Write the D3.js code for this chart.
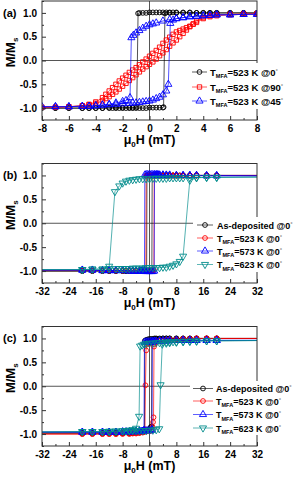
<!DOCTYPE html>
<html><head><meta charset="utf-8">
<script src="https://cdn.jsdelivr.net/npm/d3@7"></script>
<style>
body{margin:0;background:#fff}
svg{display:block;font-family:"Liberation Sans",Arial,Helvetica,sans-serif;font-weight:bold}
</style></head><body>
<svg id="chart" width="295" height="477"></svg>
<script>
// ---------------- DATA ----------------
const xTicksA = [-8,-6,-4,-2,0,2,4,6,8];
const xMinorA = [-7,-5,-3,-1,1,3,5,7];
const xTicksBC = [-32,-24,-16,-8,0,8,16,24,32];
const xMinorBC = [-28,-20,-12,-4,4,12,20,28];
const yTicks = [-1.0,-0.5,0.0,0.5,1.0];
const yMinor = [-1.25,-0.75,-0.25,0.25,0.75,1.25];

const legendA = ["523 K @0", "523 K @90", "523 K @45"];
const legendBC = ["As-deposited @0", "523 K @0", "573 K @0", "623 K @0"];

// panel (a): [H (mT), M/Ms], descending branch then ascending branch
const aBlack = [[8,1],[7,1],[6,1],[5,1],[4.5,1],[4,1],[3.5,1],[3,1.01],[2.5,1.01],[2,1.01],[1.75,1.01],[1.5,1.01],[1.25,1.01],[1,1.01],[0.75,1.01],[0.5,1.01],[0.25,1.01],[0,1.01],[-0.25,1],[-0.5,1],[-0.75,1],[-0.85,0.99],[-0.95,-0.98],[-1.25,-0.99],[-1.5,-0.99],[-2,-0.99],[-2.5,-0.99],[-3,-0.99],[-3.5,-1],[-4,-1],[-4.5,-1],[-5,-1],[-6,-1],[-7,-1],[-8,-1],
 [-7,-1],[-6,-1],[-5,-1],[-4.5,-1],[-4,-1],[-3.5,-1],[-3,-1],[-2.75,-1],[-2.5,-1],[-2.25,-1],[-2,-1],[-1.75,-1],[-1.5,-1],[-1.25,-1],[-1,-1],[-0.75,-1],[-0.5,-1],[-0.25,-1],[0,-0.99],[0.25,-0.99],[0.5,-0.99],[0.75,-0.99],[1,-0.99],[1.05,-0.98],[1.15,0.99],[1.5,1],[2,1],[2.5,1],[3,1],[3.5,1],[4,1],[4.5,1],[5,1],[6,1],[7,1],[8,1]];
const aRed = [[8,0.98],[7,0.97],[6,0.96],[5,0.94],[4.5,0.92],[4,0.88],[3.5,0.8],[3.25,0.76],[3,0.72],[2.75,0.69],[2.5,0.66],[2.25,0.63],[2,0.6],[1.75,0.55],[1.5,0.49],[1.25,0.43],[1,0.36],[0.75,0.28],[0.5,0.21],[0.25,0.15],[0,0.09],[-0.25,0.03],[-0.5,-0.03],[-0.75,-0.09],[-1,-0.15],[-1.25,-0.2],[-1.5,-0.25],[-1.75,-0.31],[-2,-0.37],[-2.25,-0.43],[-2.5,-0.5],[-2.75,-0.57],[-3,-0.64],[-3.25,-0.71],[-3.5,-0.78],[-4,-0.87],[-4.5,-0.92],[-5,-0.95],[-6,-0.97],[-7,-0.98],[-8,-0.98],
 [-7,-0.98],[-6,-0.97],[-5,-0.95],[-4.5,-0.93],[-4,-0.9],[-3.5,-0.85],[-3.25,-0.8],[-3,-0.76],[-2.75,-0.71],[-2.5,-0.66],[-2.25,-0.6],[-2,-0.54],[-1.75,-0.48],[-1.5,-0.42],[-1.25,-0.36],[-1,-0.3],[-0.75,-0.24],[-0.5,-0.18],[-0.25,-0.13],[0,-0.08],[0.25,-0.03],[0.5,0.03],[0.75,0.1],[1,0.16],[1.25,0.23],[1.5,0.3],[1.75,0.37],[2,0.43],[2.25,0.5],[2.5,0.57],[2.75,0.64],[3,0.71],[3.25,0.77],[3.5,0.83],[4,0.9],[4.5,0.94],[5,0.96],[6,0.97],[7,0.98],[8,0.98]];
const aBlue = [[8,0.97],[7,0.97],[6,0.96],[5,0.96],[4.5,0.95],[4,0.94],[3.5,0.93],[3,0.92],[2.5,0.9],[2,0.88],[1.5,0.86],[1,0.83],[0.5,0.79],[0.25,0.77],[0,0.75],[-0.25,0.72],[-0.5,0.68],[-0.75,0.63],[-1,0.58],[-1.2,0.53],[-1.35,0.48],[-1.45,-0.78],[-1.75,-0.84],[-2,-0.86],[-2.5,-0.89],[-3,-0.92],[-3.5,-0.93],[-4,-0.95],[-4.5,-0.96],[-5,-0.96],[-6,-0.97],[-7,-0.97],[-8,-0.97],
 [-7,-0.97],[-6,-0.97],[-5,-0.96],[-4.5,-0.96],[-4,-0.95],[-3.5,-0.94],[-3,-0.93],[-2.5,-0.92],[-2,-0.91],[-1.5,-0.9],[-1.25,-0.89],[-1,-0.89],[-0.75,-0.88],[-0.5,-0.87],[-0.25,-0.86],[0,-0.85],[0.25,-0.83],[0.5,-0.8],[0.75,-0.77],[1,-0.72],[1.25,-0.64],[1.4,-0.5],[1.55,0.78],[1.75,0.85],[2,0.88],[2.5,0.9],[3,0.92],[3.5,0.93],[4,0.94],[4.5,0.95],[5,0.96],[6,0.96],[7,0.97],[8,0.97]];

// panel (b)
const bBlack = [[40,1],[20,1],[17,1],[14,1],[12,1],[10,1],[9,1],[8,1],[7,1],[6,1],[5,1],[4,1],[3,1],[2,1],[1.5,1],[1,1],[0.5,1],[0,1],[-0.5,1],[-0.75,1],[-0.85,-1],[-1,-1],[-1.5,-1],[-2,-1],[-3,-1],[-4,-1],[-5,-1],[-6,-1],[-7,-1],[-8,-1],[-10,-1],[-12,-1],[-14,-1],[-17,-1],[-20,-1],[-40,-1],
 [-20,-1],[-17,-1],[-14,-1],[-12,-1],[-10,-1],[-8,-1],[-7,-1],[-6,-1],[-5,-1],[-4,-1],[-3,-1],[-2,-1],[-1.5,-1],[-1,-1],[-0.5,-1],[0,-1],[0.5,-1],[0.7,-1],[0.8,1],[1,1],[1.5,1],[2,1],[3,1],[4,1],[5,1],[6,1],[7,1],[8,1],[10,1],[12,1],[14,1],[17,1],[20,1],[40,1]];
const bRed = [[40,1],[20,1],[17,1],[14,1],[12,1],[10,1],[9,1],[8,1],[7,1],[6,1],[5,1],[4,1],[3,1],[2,1],[1.5,1],[1,1],[0.5,1],[0,1],[-0.5,1],[-1,0.99],[-1.1,-0.98],[-1.5,-0.99],[-2,-0.99],[-3,-0.99],[-4,-0.99],[-5,-0.99],[-6,-0.99],[-8,-0.99],[-10,-0.99],[-12,-0.99],[-14,-0.99],[-17,-0.99],[-20,-0.99],[-40,-0.99],
 [-20,-0.99],[-17,-0.99],[-14,-0.99],[-12,-0.99],[-10,-0.99],[-8,-0.99],[-6,-0.99],[-5,-0.99],[-4,-0.99],[-3,-0.99],[-2,-0.99],[-1,-0.99],[0,-0.99],[0.5,-0.99],[1,-0.98],[1.3,-0.98],[1.4,0.99],[2,1],[3,1],[4,1],[5,1],[6,1],[7,1],[8,1],[10,1],[12,1],[14,1],[17,1],[20,1],[40,1]];
const bBlue = [[40,0.99],[20,1],[17,1],[14,1],[12,1],[10,1],[8,1],[6,1.01],[5,1.01],[4,1.01],[3,1.01],[2.5,1.02],[2,1.02],[1.5,1.02],[1,1.02],[0.5,1.02],[0,1.02],[-0.5,1.02],[-1,1.02],[-1.4,1.01],[-1.5,-0.99],[-2,-1],[-2.5,-1],[-3,-1],[-4,-1],[-5,-1],[-6,-0.99],[-8,-0.99],[-10,-0.99],[-12,-0.99],[-14,-0.99],[-17,-0.98],[-20,-0.98],[-40,-0.98],
 [-20,-0.98],[-17,-0.98],[-14,-0.99],[-12,-0.99],[-10,-0.99],[-8,-0.99],[-6,-1],[-5,-1],[-4,-1],[-3,-1],[-2.5,-1],[-2,-1],[-1.5,-1],[-1,-1.01],[-0.5,-1.01],[0,-1.01],[0.5,-1.01],[1,-1.01],[1.4,-1],[1.5,1],[2,1.01],[2.5,1.01],[3,1.01],[4,1.01],[5,1],[6,1],[8,1],[10,1],[12,1],[14,1],[17,0.99],[20,0.99],[40,0.99]];
const bTeal = [[40,0.97],[20,0.96],[17,0.96],[14,0.96],[12,0.95],[10,0.95],[9,0.95],[8,0.95],[7,0.95],[6,0.95],[5,0.94],[4,0.94],[3,0.94],[2,0.94],[1,0.94],[0,0.93],[-1,0.93],[-2,0.93],[-3,0.93],[-4,0.92],[-5,0.91],[-6,0.9],[-7,0.88],[-8,0.84],[-9,0.78],[-10.3,0.66],[-12,-0.9],[-14,-0.96],[-17,-0.96],[-20,-0.97],[-40,-0.97],
 [-20,-0.97],[-17,-0.96],[-14,-0.96],[-12,-0.95],[-10,-0.95],[-9,-0.95],[-8,-0.95],[-7,-0.95],[-6,-0.95],[-5,-0.94],[-4,-0.94],[-3,-0.94],[-2,-0.94],[-1,-0.93],[0,-0.93],[1,-0.93],[2,-0.93],[3,-0.93],[4,-0.92],[5,-0.92],[6,-0.9],[7,-0.88],[8,-0.85],[9,-0.8],[10,-0.69],[12,0.9],[14,0.95],[17,0.96],[20,0.96],[40,0.97]];

// panel (c)
const cBlack = [[40,1],[20,1],[17,1],[14,1],[12,1],[10,1],[8,1],[6,1],[5,1],[4,1],[3,1],[2,1],[1.5,1],[1,0.99],[0.5,0.99],[0,0.99],[-0.5,0.98],[-1,0.97],[-1.4,0.95],[-1.5,-0.93],[-2,-0.96],[-3,-0.97],[-4,-0.97],[-5,-0.98],[-6,-0.98],[-8,-0.98],[-10,-0.98],[-12,-0.98],[-14,-0.98],[-17,-0.98],[-20,-0.98],[-40,-0.98],
 [-20,-0.98],[-17,-0.98],[-14,-0.98],[-12,-0.98],[-10,-0.98],[-8,-0.98],[-6,-0.97],[-5,-0.97],[-4,-0.97],[-3,-0.96],[-2,-0.95],[-1.5,-0.94],[-1,-0.93],[-0.5,-0.92],[0,-0.9],[0.3,-0.86],[0.6,-0.84],[0.7,0.95],[1,0.97],[1.5,0.98],[2,0.99],[3,0.99],[4,1],[5,1],[6,1],[8,1],[10,1],[12,1],[14,1],[17,1],[20,1],[40,1]];
const cRed = [[40,1],[20,1],[17,1],[14,1],[12,0.99],[10,0.99],[8,0.98],[6,0.98],[5,0.97],[4,0.96],[3,0.95],[2,0.94],[1.5,0.93],[1,0.92],[0.5,0.91],[0,0.9],[-0.5,0.89],[-0.85,0.87],[-1,0.75],[-1.2,0.02],[-1.35,-0.9],[-1.6,-0.95],[-2,-0.97],[-3,-0.98],[-4,-0.99],[-5,-0.99],[-6,-1],[-8,-1],[-10,-1],[-12,-1],[-14,-1],[-17,-1],[-20,-1],[-40,-1],
 [-20,-1],[-17,-1],[-14,-1],[-12,-1],[-10,-1],[-8,-0.99],[-6,-0.99],[-5,-0.98],[-4,-0.98],[-3,-0.97],[-2,-0.96],[-1,-0.95],[0,-0.94],[0.5,-0.93],[0.9,-0.85],[1.05,-0.75],[1.2,-0.65],[1.35,0.83],[1.5,0.88],[2,0.92],[3,0.95],[4,0.96],[5,0.97],[6,0.98],[8,0.98],[10,0.99],[12,0.99],[14,1],[17,1],[20,1],[40,1]];
const cBlue = [[40,0.96],[20,0.96],[17,0.96],[14,0.96],[12,0.96],[10,0.96],[8,0.96],[6,0.95],[5,0.95],[4,0.95],[3,0.95],[2,0.94],[1.5,0.94],[1,0.94],[0.5,0.94],[0,0.93],[-0.5,0.93],[-1,0.93],[-1.5,0.92],[-1.65,-0.92],[-2,-0.94],[-3,-0.95],[-4,-0.95],[-5,-0.95],[-6,-0.96],[-8,-0.96],[-10,-0.96],[-12,-0.96],[-14,-0.96],[-17,-0.96],[-20,-0.96],[-40,-0.96],
 [-20,-0.96],[-17,-0.96],[-14,-0.96],[-12,-0.96],[-10,-0.96],[-8,-0.95],[-7,-0.95],[-6,-0.95],[-5,-0.95],[-4,-0.94],[-3,-0.94],[-2.5,-0.94],[-2,-0.94],[-1.5,-0.93],[-1,-0.93],[-0.5,-0.93],[0,-0.93],[0.5,-0.92],[0.75,-0.91],[0.85,0.92],[1,0.93],[1.5,0.94],[2,0.94],[3,0.95],[4,0.95],[5,0.95],[6,0.96],[8,0.96],[10,0.96],[12,0.96],[14,0.96],[17,0.96],[20,0.96],[40,0.96]];
const cTeal = [[40,0.96],[20,0.95],[17,0.95],[14,0.95],[12,0.94],[10,0.94],[8,0.93],[7,0.93],[6,0.93],[5,0.92],[4,0.92],[3,0.91],[2,0.91],[1,0.9],[0,0.9],[-1,0.89],[-1.6,0.88],[-2.2,0.86],[-2.8,0.84],[-3.1,-0.63],[-4,-0.88],[-5,-0.91],[-6,-0.92],[-8,-0.93],[-10,-0.94],[-12,-0.94],[-14,-0.95],[-17,-0.95],[-20,-0.95],[-40,-0.96],
 [-20,-0.95],[-17,-0.95],[-14,-0.95],[-12,-0.95],[-10,-0.94],[-8,-0.94],[-7,-0.94],[-6,-0.93],[-5,-0.93],[-4,-0.93],[-3,-0.93],[-2,-0.93],[-1,-0.93],[0,-0.92],[1,-0.92],[2,-0.91],[2.9,-0.89],[3.3,0.03],[3.8,0.88],[5,0.9],[6,0.91],[8,0.92],[10,0.93],[12,0.94],[14,0.94],[17,0.95],[20,0.95],[40,0.96]];

// ---------------- STYLE / LAYOUT ----------------
const COLORS = {black:"#000000", red:"#ff0000", blue:"#0000ff", teal:"#008b8b"};
const panels = [
  {label:"(a)", top:1, bottom:120, xDomain:[-8,8], xTicks:xTicksA, xMinor:xMinorA,
   series:[{d:aBlack,c:COLORS.black,s:"circle"},{d:aRed,c:COLORS.red,s:"square"},{d:aBlue,c:COLORS.blue,s:"up"}],
   legend:{names:legendA, mfa:[true,true,true], x0:192, x1:207, tx:210, ys:[72,87,101], fs:9.5, bg:[188,63,107,46]}},
  {label:"(b)", top:163.5, bottom:283, xDomain:[-32,32], xTicks:xTicksBC, xMinor:xMinorBC,
   series:[{d:bBlack,c:COLORS.black,s:"circle"},{d:bRed,c:COLORS.red,s:"circle"},{d:bBlue,c:COLORS.blue,s:"up"},{d:bTeal,c:COLORS.teal,s:"down"}],
   legend:{names:legendBC, mfa:[false,true,true,true], x0:197, x1:213, tx:217, ys:[225,238,251,264.5], fs:9, bg:[193,217,102,55]}},
  {label:"(c)", top:326.5, bottom:446, xDomain:[-32,32], xTicks:xTicksBC, xMinor:xMinorBC,
   series:[{d:cBlack,c:COLORS.black,s:"circle"},{d:cRed,c:COLORS.red,s:"circle"},{d:cBlue,c:COLORS.blue,s:"up"},{d:cTeal,c:COLORS.teal,s:"down"}],
   legend:{names:legendBC, mfa:[false,true,true,true], x0:193, x1:213, tx:216, ys:[388.5,401,414.5,428], fs:9, bg:[190,381,105,54]}}
];
const L = 42, R = 257;
const svg = d3.select("#chart");

function symbolPath(s){
  if(s==="circle") return d3.symbol(d3.symbolCircle, 18)();
  if(s==="square") return d3.symbol(d3.symbolSquare, 19)();
  return d3.symbol(d3.symbolTriangle, 22)();
}

panels.forEach((p,i)=>{
  const x = d3.scaleLinear().domain(p.xDomain).range([L,R]);
  const y = d3.scaleLinear().domain([-1.25,1.25]).range([p.bottom,p.top]);
  const g = svg.append("g");
  const cid = "clip"+i;
  g.append("clipPath").attr("id",cid).append("rect")
    .attr("x",L).attr("y",p.top).attr("width",R-L).attr("height",p.bottom-p.top);

  // zero lines
  g.append("line").attr("x1",L).attr("x2",R).attr("y1",y(0)).attr("y2",y(0))
    .attr("stroke","#555").attr("stroke-width",1);
  g.append("line").attr("x1",x(0)).attr("x2",x(0)).attr("y1",p.top).attr("y2",p.bottom)
    .attr("stroke","#555").attr("stroke-width",1);

  const line = d3.line().x(d=>x(d[0])).y(d=>y(d[1]));
  const maxMark = p.xDomain[1] > 10 ? 20 : 8;
  p.series.forEach(s=>{
    const sg = g.append("g").attr("clip-path",`url(#${cid})`);
    sg.append("path").attr("d",line(s.d)).attr("fill","none")
      .attr("stroke",s.c).attr("stroke-width",0.8).attr("stroke-opacity",0.85);
    sg.selectAll("path.m").data(s.d.filter(d=>Math.abs(d[0])<=maxMark)).enter()
      .append("path").attr("class","m").attr("d",symbolPath(s.s))
      .attr("transform",d=>`translate(${x(d[0])},${y(d[1])})${s.s==="down"?" rotate(180)":""}`)
      .attr("fill","none").attr("stroke",s.c).attr("stroke-width",0.9);
  });

  // axes
  const xa = g.append("g").attr("transform",`translate(0,${p.bottom})`)
    .call(d3.axisBottom(x).tickValues(p.xTicks).tickSize(-4).tickPadding(5).tickFormat(d=>String(d)));
  const xm = g.append("g").attr("transform",`translate(0,${p.bottom})`)
    .call(d3.axisBottom(x).tickValues(p.xMinor).tickSize(-2).tickFormat(""));
  const ya = g.append("g").attr("transform",`translate(${L},0)`)
    .call(d3.axisLeft(y).tickValues(yTicks).tickSize(-4).tickPadding(5).tickFormat(d=>d.toFixed(1)));
  const ym = g.append("g").attr("transform",`translate(${L},0)`)
    .call(d3.axisLeft(y).tickValues(yMinor).tickSize(-2).tickFormat(""));
  [xa,xm,ya,ym].forEach(a=>{
    a.select(".domain").remove();
    a.selectAll("line").attr("stroke","#333");
    a.selectAll("text").attr("fill","#000").style("font-size","10px").style("font-weight","bold")
      .style("font-family",'"Liberation Sans",Arial,sans-serif');
  });

  // frame
  g.append("rect").attr("x",L).attr("y",p.top).attr("width",R-L).attr("height",p.bottom-p.top)
    .attr("fill","none").attr("stroke","#333").attr("stroke-width",1);

  // panel label
  g.append("text").attr("x",3).attr("y",y(1)+4).style("font-size","11px").text(p.label);

  // y title
  const yt = g.append("text").attr("transform",`translate(15,${(p.top+p.bottom)/2 - 8}) rotate(-90)`)
    .attr("text-anchor","middle").style("font-size","13px");
  yt.append("tspan").text("M/M");
  yt.append("tspan").attr("dy",3).style("font-size","8px").text("s");

  // x title
  const xt = g.append("text").attr("x",(L+R)/2).attr("y",p.bottom+24)
    .attr("text-anchor","middle").style("font-size","12.5px");
  xt.append("tspan").text("\u03bc");
  xt.append("tspan").attr("dy",3).style("font-size","8px").text("0");
  xt.append("tspan").attr("dy",-3).text("H (mT)");

  // legend
  const lg = p.legend;
  g.append("rect").attr("x",lg.bg[0]).attr("y",lg.bg[1]).attr("width",lg.bg[2]).attr("height",lg.bg[3]).attr("fill","#fff");
  p.series.forEach((s,k)=>{
    const yy = lg.ys[k];
    g.append("line").attr("x1",lg.x0).attr("x2",lg.x1).attr("y1",yy).attr("y2",yy)
      .attr("stroke",s.c).attr("stroke-width",0.9).attr("stroke-opacity",0.7);
    g.append("path").attr("d",symbolPath(s.s))
      .attr("transform",`translate(${(lg.x0+lg.x1)/2},${yy})${s.s==="down"?" rotate(180)":""}`)
      .attr("fill","none").attr("stroke",s.c).attr("stroke-width",0.9);
    const t = g.append("text").attr("x",lg.tx).attr("y",yy+3.5).style("font-size",lg.fs+"px");
    if(lg.mfa[k]){
      t.append("tspan").text("T");
      t.append("tspan").attr("dy",2.5).style("font-size","5.5px").text("MFA");
      t.append("tspan").attr("dy",-2.5).text("=" + lg.names[k]);
    } else {
      t.append("tspan").text(lg.names[k]);
    }
    t.append("tspan").attr("dy",-3).style("font-size","6px").style("font-weight","normal").attr("fill","#555").text("\u00b0");
  });
});
</script>
</body></html>
